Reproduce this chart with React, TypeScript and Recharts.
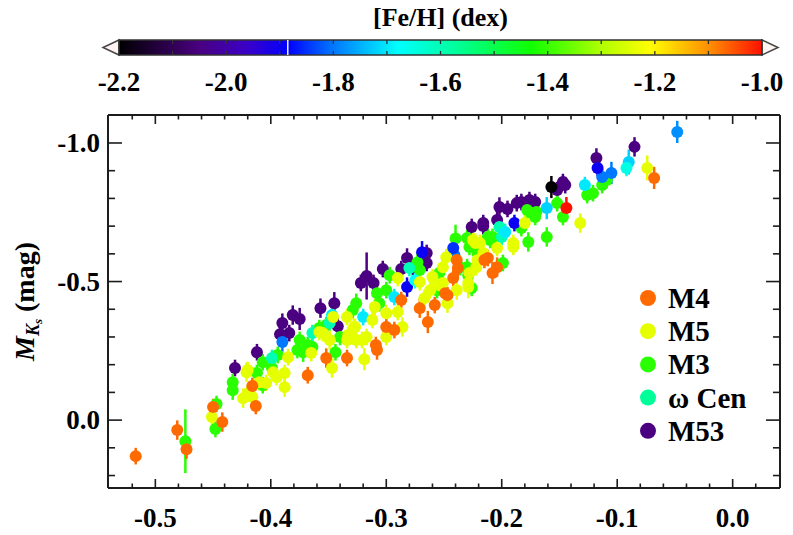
import React from "react";
import {
  ScatterChart,
  Scatter,
  XAxis,
  YAxis,
  ErrorBar,
  Legend,
  Label,
  ReferenceArea,
  ReferenceLine,
} from "recharts";

const SERIF = "'Liberation Serif', 'Times New Roman', Times, serif";
const INK = "#1c1c1c";

// colour table of [Fe/H]
const cmapFeh = [-2.2, -2.05, -1.96, -1.885, -1.8, -1.68, -1.56, -1.43, -1.3, -1.21, -1.1, -1.0];
const cmapColors = [
  "#000000", "#4a0080", "#3a00c8", "#0000ff", "#0078ff", "#00ffff",
  "#00ff90", "#10ff00", "#b0ff00", "#ffff00", "#ff9000", "#ff1000",
];

// colour bar ticks
const cbarTicks = [-2.2, -2.1, -2.0, -1.9, -1.8, -1.7, -1.6, -1.5, -1.4, -1.3, -1.2, -1.1, -1.0];
const cbarLabels = [-2.2, -2.0, -1.8, -1.6, -1.4, -1.2, -1.0];

// main axes ticks
const xTicks = [
  -0.52, -0.5, -0.48, -0.46, -0.44, -0.42, -0.4, -0.38, -0.36, -0.34, -0.32, -0.3,
  -0.28, -0.26, -0.24, -0.22, -0.2, -0.18, -0.16, -0.14, -0.12, -0.1, -0.08, -0.06,
  -0.04, -0.02, 0, 0.02,
];
const xMajor = [-0.5, -0.4, -0.3, -0.2, -0.1, 0];
const yTicks = [-1.0, -0.9, -0.8, -0.7, -0.6, -0.5, -0.4, -0.3, -0.2, -0.1, 0, 0.1, 0.2];
const yMajor = [-1.0, -0.5, 0];

const X_DOMAIN = [-0.541, 0.041];
const Y_DOMAIN = [-1.101, 0.245];

// cluster metallicities
const fehM4 = -1.07;
const fehM5 = -1.24;
const fehM3 = -1.41;
const fehOmegaCen = -1.57;
const fehM53 = -2.05;

// [x, M_Ks, err]
const m4Points = [
  [-0.517, 0.13, 0.03], [-0.481, 0.036, 0.035], [-0.473, 0.105, 0.035], [-0.45, -0.047, 0.03],
  [-0.442, 0.007, 0.035], [-0.413, -0.051, 0.03], [-0.416, -0.123, 0.03], [-0.368, -0.162, 0.03],
  [-0.352, -0.224, 0.035], [-0.334, -0.224, 0.03], [-0.309, -0.271, 0.03], [-0.308, -0.253, 0.035],
  [-0.3, -0.336, 0.03], [-0.293, -0.325, 0.03], [-0.287, -0.433, 0.03], [-0.271, -0.404, 0.035],
  [-0.258, -0.415, 0.03], [-0.264, -0.354, 0.04], [-0.249, -0.458, 0.03], [-0.242, -0.513, 0.03],
  [-0.238, -0.549, 0.03], [-0.215, -0.578, 0.03], [-0.239, -0.578, 0.03], [-0.212, -0.585, 0.03],
  [-0.204, -0.552, 0.035], [-0.208, -0.531, 0.04], [-0.068, -0.874, 0.04], [-0.247, -0.451, 0.03],
];

const m5Points = [
  [-0.451, -0.011, 0.03], [-0.421, -0.173, 0.035], [-0.424, -0.079, 0.035], [-0.42, -0.097, 0.03],
  [-0.416, -0.083, 0.035], [-0.41, -0.137, 0.03], [-0.404, -0.134, 0.03], [-0.398, -0.173, 0.03],
  [-0.388, -0.119, 0.035], [-0.385, -0.227, 0.03], [-0.388, -0.17, 0.03], [-0.395, -0.155, 0.03],
  [-0.365, -0.242, 0.03], [-0.358, -0.318, 0.03], [-0.349, -0.289, 0.035], [-0.334, -0.372, 0.03],
  [-0.333, -0.307, 0.03], [-0.319, -0.22, 0.04], [-0.326, -0.289, 0.03], [-0.328, -0.336, 0.03],
  [-0.317, -0.3, 0.03], [-0.31, -0.408, 0.03], [-0.29, -0.513, 0.03], [-0.271, -0.498, 0.03],
  [-0.267, -0.44, 0.03], [-0.262, -0.469, 0.03], [-0.254, -0.487, 0.03], [-0.247, -0.422, 0.035],
  [-0.229, -0.48, 0.04], [-0.223, -0.639, 0.035], [-0.334, -0.289, 0.03], [-0.347, -0.188, 0.035],
  [-0.355, -0.314, 0.03], [-0.346, -0.372, 0.03], [-0.29, -0.39, 0.03], [-0.3, -0.386, 0.03],
  [-0.286, -0.336, 0.035], [-0.321, -0.289, 0.03], [-0.327, -0.336, 0.03], [-0.312, -0.361, 0.03],
  [-0.3, -0.3, 0.03], [-0.221, -0.578, 0.03], [-0.228, -0.531, 0.035], [-0.229, -0.495, 0.03],
  [-0.18, -0.711, 0.03], [-0.19, -0.625, 0.03], [-0.204, -0.621, 0.03], [-0.216, -0.603, 0.03],
  [-0.132, -0.711, 0.035], [-0.074, -0.91, 0.045], [-0.248, -0.588, 0.03], [-0.251, -0.552, 0.03],
  [-0.225, -0.65, 0.035], [-0.219, -0.639, 0.03], [-0.19, -0.639, 0.03], [-0.26, -0.516, 0.03],
  [-0.251, -0.495, 0.03], [-0.239, -0.469, 0.035], [-0.222, -0.552, 0.03], [-0.42, -0.181, 0.03],
];

const m3Points = [
  [-0.474, 0.076, 0.115], [-0.447, -0.058, 0.03], [-0.448, 0.032, 0.03], [-0.433, -0.137, 0.03],
  [-0.433, -0.108, 0.035], [-0.412, -0.17, 0.03], [-0.407, -0.209, 0.03], [-0.407, -0.126, 0.03],
  [-0.399, -0.188, 0.03], [-0.394, -0.235, 0.03], [-0.377, -0.253, 0.03], [-0.375, -0.289, 0.03],
  [-0.372, -0.245, 0.035], [-0.368, -0.271, 0.03], [-0.364, -0.264, 0.03], [-0.358, -0.332, 0.03],
  [-0.352, -0.343, 0.03], [-0.344, -0.245, 0.03], [-0.34, -0.3, 0.03], [-0.329, -0.397, 0.03],
  [-0.326, -0.422, 0.035], [-0.308, -0.458, 0.03], [-0.306, -0.422, 0.03], [-0.3, -0.469, 0.03],
  [-0.297, -0.523, 0.03], [-0.273, -0.57, 0.03], [-0.254, -0.531, 0.03], [-0.23, -0.552, 0.03],
  [-0.219, -0.603, 0.03], [-0.24, -0.655, 0.05], [-0.236, -0.552, 0.03], [-0.23, -0.657, 0.03],
  [-0.226, -0.477, 0.03], [-0.21, -0.65, 0.03], [-0.208, -0.661, 0.03], [-0.199, -0.567, 0.03],
  [-0.183, -0.693, 0.03], [-0.177, -0.643, 0.035], [-0.174, -0.747, 0.03], [-0.17, -0.751, 0.03],
  [-0.161, -0.661, 0.035], [-0.152, -0.783, 0.03], [-0.147, -0.733, 0.03], [-0.126, -0.812, 0.03],
  [-0.121, -0.819, 0.03], [-0.113, -0.848, 0.03], [-0.109, -0.866, 0.03], [-0.228, -0.625, 0.03],
  [-0.212, -0.661, 0.03], [-0.178, -0.758, 0.03], [-0.171, -0.733, 0.03], [-0.271, -0.542, 0.03],
  [-0.256, -0.469, 0.03], [-0.229, -0.523, 0.03], [-0.221, -0.603, 0.035],
];

// ω Cen stars carry their own [Fe/H]: [x, M_Ks, err, feh]
const omegaCenPoints = [
  [-0.157, -0.841, 0.04, -2.2], [-0.39, -0.282, 0.035, -1.8], [-0.399, -0.224, 0.03, -1.6],
  [-0.364, -0.314, 0.03, -1.6], [-0.349, -0.35, 0.03, -1.6], [-0.347, -0.379, 0.035, -1.7],
  [-0.32, -0.372, 0.03, -1.7], [-0.28, -0.549, 0.03, -1.6], [-0.293, -0.444, 0.03, -1.7],
  [-0.269, -0.606, 0.04, -1.9], [-0.282, -0.48, 0.035, -1.9], [-0.241, -0.596, 0.03, -1.8],
  [-0.242, -0.621, 0.035, -1.85], [-0.189, -0.711, 0.03, -1.9], [-0.2, -0.661, 0.03, -1.6],
  [-0.197, -0.679, 0.03, -1.7], [-0.161, -0.765, 0.04, -1.72], [-0.128, -0.848, 0.03, -1.7],
  [-0.117, -0.91, 0.03, -1.9], [-0.113, -0.877, 0.03, -1.8], [-0.105, -0.892, 0.04, -1.8],
  [-0.09, -0.931, 0.045, -1.72], [-0.092, -0.91, 0.03, -1.65], [-0.048, -1.04, 0.04, -1.78],
  [-0.144, -0.765, 0.04, -1.0], [-0.202, -0.697, 0.03, -1.6], [-0.275, -0.505, 0.03, -1.68],
];

const m53Points = [
  [-0.431, -0.188, 0.03], [-0.412, -0.245, 0.03], [-0.39, -0.35, 0.035], [-0.381, -0.379, 0.035],
  [-0.375, -0.365, 0.04], [-0.384, -0.314, 0.03], [-0.392, -0.31, 0.03], [-0.357, -0.404, 0.035],
  [-0.345, -0.422, 0.04], [-0.342, -0.339, 0.035], [-0.322, -0.495, 0.03], [-0.311, -0.495, 0.03],
  [-0.317, -0.52, 0.085], [-0.303, -0.545, 0.03], [-0.282, -0.585, 0.035], [-0.287, -0.545, 0.03],
  [-0.265, -0.567, 0.03], [-0.265, -0.603, 0.03], [-0.226, -0.697, 0.03], [-0.216, -0.7, 0.03],
  [-0.216, -0.711, 0.03], [-0.204, -0.722, 0.03], [-0.202, -0.769, 0.035], [-0.195, -0.762, 0.03],
  [-0.187, -0.783, 0.03], [-0.183, -0.787, 0.03], [-0.176, -0.794, 0.03], [-0.171, -0.787, 0.03],
  [-0.152, -0.83, 0.03], [-0.145, -0.848, 0.03], [-0.147, -0.859, 0.03], [-0.118, -0.946, 0.035],
  [-0.085, -0.986, 0.035], [-0.277, -0.552, 0.03],
];

const legendNames = ["M4", "M5", "M3", "ω Cen", "M53"];
const legendFeh = [fehM4, fehM5, fehM3, fehOmegaCen, fehM53];

function hexToRgb(h: string) {
  return [1, 3, 5].map((i) => parseInt(h.slice(i, i + 2), 16));
}

function fehColor(feh: number) {
  if (feh <= cmapFeh[0]) return cmapColors[0];
  for (let i = 1; i < cmapFeh.length; i++) {
    if (feh <= cmapFeh[i]) {
      const t = (feh - cmapFeh[i - 1]) / (cmapFeh[i] - cmapFeh[i - 1]);
      const a = hexToRgb(cmapColors[i - 1]);
      const b = hexToRgb(cmapColors[i]);
      const c = a.map((v, k) => Math.round(v + (b[k] - v) * t));
      return `rgb(${c[0]},${c[1]},${c[2]})`;
    }
  }
  return cmapColors[cmapColors.length - 1];
}

const toRows = (pts: number[][]) => pts.map(([x, y, err]) => ({ x, y, err }));
const isIn = (v: number, list: number[]) => list.some((m) => Math.abs(m - v) < 1e-6);

function XTickLabel(props: any) {
  const { x, y, payload } = props;
  if (!isIn(payload.value, xMajor)) return <g />;
  return (
    <text x={x} y={y} textAnchor="middle" style={{ fontFamily: SERIF }} fontWeight="bold" fontSize={27} fill="#000">
      {payload.value.toFixed(1)}
    </text>
  );
}

function YTickLabel(props: any) {
  const { x, y, payload } = props;
  if (!isIn(payload.value, yMajor)) return <g />;
  return (
    <text x={x} y={y + 9} textAnchor="end" style={{ fontFamily: SERIF }} fontWeight="bold" fontSize={27} fill="#000">
      {payload.value.toFixed(1)}
    </text>
  );
}

function YAxisTitle(props: any) {
  const vb = props.viewBox;
  const cx = vb.x + 34;
  const cy = vb.y + vb.height / 2;
  return (
    <text
      x={cx}
      y={cy}
      transform={`rotate(-90, ${cx}, ${cy})`}
      textAnchor="middle"
      style={{ fontFamily: SERIF }}
      fontWeight="bold"
      fontSize={28}
      fill="#000"
    >
      <tspan fontStyle="italic">M</tspan>
      <tspan fontStyle="italic" fontSize={18} dy={5}>K</tspan>
      <tspan fontStyle="italic" fontSize={13} dy={3}>s</tspan>
      <tspan dy={-8}> (mag)</tspan>
    </text>
  );
}

function CbarTickLabel(props: any) {
  const { x, y, payload } = props;
  if (!isIn(payload.value, cbarLabels)) return <g />;
  return (
    <text x={x} y={y} textAnchor="middle" style={{ fontFamily: SERIF }} fontWeight="bold" fontSize={27} fill="#000">
      {payload.value.toFixed(1)}
    </text>
  );
}

function ColorBarShape(props: any) {
  const { x, y, width, height } = props;
  const span = cmapFeh[cmapFeh.length - 1] - cmapFeh[0];
  return (
    <g>
      <defs>
        <linearGradient id="fehGradient" x1="0" y1="0" x2="1" y2="0">
          {cmapFeh.map((f, i) => (
            <stop key={i} offset={`${((f - cmapFeh[0]) / span) * 100}%`} stopColor={cmapColors[i]} />
          ))}
        </linearGradient>
      </defs>
      <polygon
        points={`${x},${y} ${x - 16},${y + height / 2} ${x},${y + height}`}
        fill="#fff4f2"
        stroke="#444"
        strokeWidth={1.5}
      />
      <polygon
        points={`${x + width},${y} ${x + width + 16},${y + height / 2} ${x + width},${y + height}`}
        fill="#fff4f2"
        stroke="#444"
        strokeWidth={1.5}
      />
      <rect x={x} y={y} width={width} height={height} fill="url(#fehGradient)" stroke="#333" strokeWidth={1.5} />
      <text
        x={x + width / 2}
        y={y - 14}
        textAnchor="middle"
        style={{ fontFamily: SERIF }}
        fontWeight="bold"
        fontSize={26}
        fill="#000"
      >
        [Fe/H] (dex)
      </text>
    </g>
  );
}

function ClusterLegend() {
  return (
    <svg width={150} height={190} style={{ overflow: "visible" }}>
      {legendNames.map((name, i) => (
        <g key={name}>
          <circle cx={12} cy={20 + i * 33.2} r={8} fill={fehColor(legendFeh[i])} />
          <text x={32} y={20 + i * 33.2 + 10} style={{ fontFamily: SERIF }} fontWeight="bold" fontSize={29} fill="#000">
            {name}
          </text>
        </g>
      ))}
    </svg>
  );
}

const dot = (color: string) => (p: any) => <circle cx={p.cx} cy={p.cy} r={6} fill={color} />;
const noDot = () => <g />;

function ClusterSeries(key: string, rows: any[], color: string) {
  return (
    <Scatter key={key} data={rows} xAxisId="x" yAxisId="y" shape={dot(color)} isAnimationActive={false}>
      <ErrorBar dataKey="err" direction="y" width={0} stroke={color} strokeWidth={2.5} isAnimationActive={false} />
    </Scatter>
  );
}

// inward tick marks drawn as short segments in data units
const X_MAJOR_LEN = 0.0325;
const X_MINOR_LEN = 0.0162;
const Y_MAJOR_LEN = 0.0121;
const Y_MINOR_LEN = 0.0061;

function frameTicks() {
  const out: any[] = [];
  const [x0, x1] = X_DOMAIN;
  const [yTop, yBot] = Y_DOMAIN;
  xTicks.forEach((v) => {
    const len = isIn(v, xMajor) ? X_MAJOR_LEN : X_MINOR_LEN;
    out.push([`xb${v}`, [{ x: v, y: yBot }, { x: v, y: yBot - len }]]);
    out.push([`xt${v}`, [{ x: v, y: yTop }, { x: v, y: yTop + len }]]);
  });
  yTicks.forEach((v) => {
    const len = isIn(v, yMajor) ? Y_MAJOR_LEN : Y_MINOR_LEN;
    out.push([`yl${v}`, [{ x: x0, y: v }, { x: x0 + len, y: v }]]);
    out.push([`yr${v}`, [{ x: x1, y: v }, { x: x1 - len, y: v }]]);
  });
  return out.map(([k, seg]) => (
    <ReferenceLine key={k} xAxisId="x" yAxisId="y" segment={seg} stroke={INK} strokeWidth={1.6} ifOverflow="visible" />
  ));
}

function cbarTickMarks() {
  return cbarTicks
    .filter((f) => f > -2.19 && f < -1.01)
    .flatMap((f) => [
      <ReferenceLine key={`cb${f}`} xAxisId="cb" yAxisId="cb" segment={[{ x: f, y: 0 }, { x: f, y: 0.27 }]} stroke="#333" strokeWidth={1.3} ifOverflow="visible" />,
      <ReferenceLine key={`ct${f}`} xAxisId="cb" yAxisId="cb" segment={[{ x: f, y: 1 }, { x: f, y: 0.73 }]} stroke="#333" strokeWidth={1.3} ifOverflow="visible" />,
    ]);
}

export default function App() {
  const frame = { stroke: INK, strokeWidth: 2 };

  // group ω Cen stars by metallicity so every series has one colour
  const omegaGroups = new Map<number, any[]>();
  omegaCenPoints.forEach(([x, y, err, feh]) => {
    if (!omegaGroups.has(feh)) omegaGroups.set(feh, []);
    omegaGroups.get(feh)!.push({ x, y, err });
  });

  const cbarData = cbarTicks.map((f) => ({ f, v: 0.5 }));

  return (
    <div style={{ position: "absolute", left: 0, top: 0, width: 793, height: 535, background: "#fff" }}>
      <div style={{ position: "absolute", left: 0, top: 0 }}>
        <ScatterChart width={793} height={535} margin={{ top: 115, right: 13, bottom: 0, left: 0 }}>
          <XAxis
            xAxisId="x"
            dataKey="x"
            type="number"
            domain={X_DOMAIN}
            allowDataOverflow
            ticks={xTicks}
            interval={0}
            height={47}
            tickSize={0}
            tickLine={false}
            tickMargin={39}
            tick={<XTickLabel />}
            axisLine={frame}
          />
          <YAxis
            yAxisId="y"
            dataKey="y"
            type="number"
            reversed
            domain={Y_DOMAIN}
            allowDataOverflow
            ticks={yTicks}
            interval={0}
            width={108}
            tickSize={0}
            tickLine={false}
            tickMargin={8}
            tick={<YTickLabel />}
            axisLine={frame}
          >
            <Label content={<YAxisTitle />} />
          </YAxis>
          {ClusterSeries("M53", toRows(m53Points), fehColor(fehM53))}
          {ClusterSeries("M3", toRows(m3Points), fehColor(fehM3))}
          {Array.from(omegaGroups.entries()).map(([feh, rows]) =>
            ClusterSeries(`wcen${feh}`, rows, fehColor(feh))
          )}
          {ClusterSeries("M5", toRows(m5Points), fehColor(fehM5))}
          {ClusterSeries("M4", toRows(m4Points), fehColor(fehM4))}
          <ReferenceLine xAxisId="x" yAxisId="y" y={Y_DOMAIN[0]} stroke={INK} strokeWidth={2} ifOverflow="visible" />
          <ReferenceLine xAxisId="x" yAxisId="y" x={X_DOMAIN[1]} stroke={INK} strokeWidth={2} ifOverflow="visible" />
          {frameTicks()}
          <Legend
            layout="horizontal"
            verticalAlign="middle"
            content={() => <ClusterLegend />}
            wrapperStyle={{ position: "absolute", left: 636, top: 278, width: 150 }}
          />
        </ScatterChart>
      </div>
      <div style={{ position: "absolute", left: 0, top: 0 }}>
        <ScatterChart width={793} height={110} margin={{ top: 40, right: 31, bottom: 0, left: 119 }}>
          <XAxis
            xAxisId="cb"
            dataKey="f"
            type="number"
            domain={[-2.2, -1.0]}
            allowDataOverflow
            ticks={cbarTicks}
            interval={0}
            height={55}
            tickSize={0}
            tickLine={false}
            tickMargin={36}
            tick={<CbarTickLabel />}
            axisLine={false}
          />
          <YAxis yAxisId="cb" dataKey="v" type="number" domain={[0, 1]} allowDataOverflow hide />
          <Scatter data={cbarData} xAxisId="cb" yAxisId="cb" shape={noDot} isAnimationActive={false} />
          <ReferenceArea
            xAxisId="cb"
            yAxisId="cb"
            x1={-2.2}
            x2={-1.0}
            y1={0}
            y2={1}
            shape={<ColorBarShape />}
            ifOverflow="visible"
          />
          <ReferenceLine xAxisId="cb" yAxisId="cb" x={-1.885} stroke="#f4f4f4" strokeWidth={1.5} ifOverflow="visible" />
          {cbarTickMarks()}
        </ScatterChart>
      </div>
    </div>
  );
}
